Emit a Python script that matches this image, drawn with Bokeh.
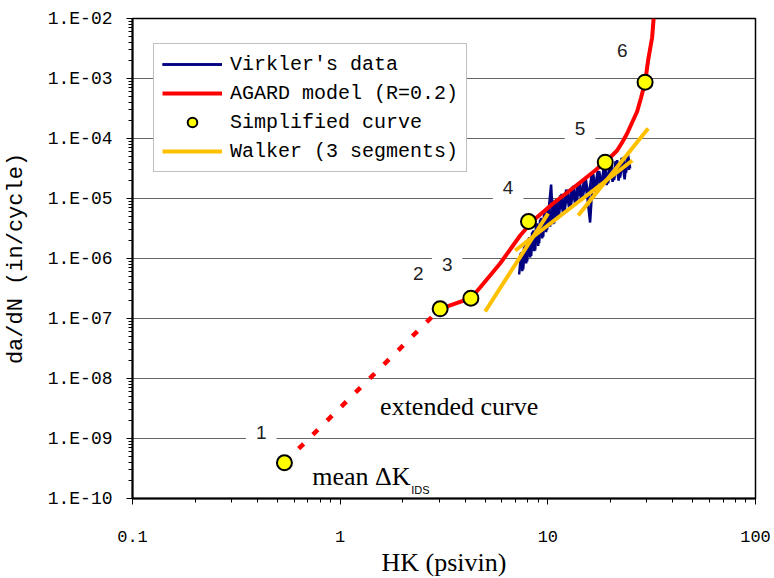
from bokeh.plotting import figure
from bokeh.models import FixedTicker, CustomJSTickFormatter, Label, Legend, LegendItem
from bokeh.embed import file_html
from bokeh.resources import INLINE

# ---------------- data ----------------
# Simplified curve (numbered points 1..6)
simp_x = [0.539, 3.03, 4.26, 8.07, 18.9, 29.4]
simp_y = [3.94e-10, 1.45e-7, 2.18e-7, 4.14e-6, 4.03e-5, 8.67e-4]
simp_labels = ["1", "2", "3", "4", "5", "6"]

# AGARD model (R=0.2), solid part
agard_x = [3.03, 4.26, 4.72, 5.89, 7.36, 8.50, 10.6, 14.3, 16.89, 18.46, 19.95, 21.56, 22.79,
           24.09, 25.46, 26.92, 28.13, 29.4, 30.4, 31.78, 32.32]
agard_y = [1.45e-7, 2.18e-7, 3.29e-7, 8.25e-7, 2.42e-6, 4.30e-6, 8.25e-6, 1.85e-5, 2.93e-5, 3.83e-5,
           4.82e-5, 6.31e-5, 8.58e-5, 1.21e-4, 1.85e-4, 2.82e-4, 4.82e-4, 8.67e-4, 2.0e-3, 4.82e-3, 1.0e-2]

# extended curve (dashed), from point 1 to point 2
ext_x = [0.539, 3.03]
ext_y = [3.94e-10, 1.45e-7]

# Virkler's data (noisy band), traced as two interleaved zig-zags
virk_a_x = [7.275, 7.439, 7.606, 7.776, 7.950, 8.128, 8.310, 8.496, 8.687, 8.881,
            9.080, 9.284, 9.493, 9.705, 9.922, 10.15, 10.37, 10.60, 10.84, 11.08,
            11.46, 11.85, 12.25, 12.66, 13.09, 13.53, 13.99, 14.47, 14.96, 15.46,
            15.98, 16.52, 17.08, 17.66, 18.26, 18.88, 19.51, 20.17, 20.85, 21.56,
            22.29, 23.05, 23.82, 24.36, 24.91]
virk_a_y = [5.41e-7, 1.26e-6, 6.56e-7, 1.68e-6, 8.91e-7, 2.26e-6, 1.105e-6, 2.93e-6, 1.36e-6, 3.86e-6,
            1.81e-6, 4.75e-6, 2.30e-6, 6.26e-6, 3.04e-6, 7.94e-6, 1.71e-5, 3.72e-6, 9.33e-6, 4.50e-6,
            1.126e-5, 5.62e-6, 1.40e-5, 6.97e-6, 1.56e-5, 8.13e-6, 1.82e-5, 9.48e-6, 2.10e-5, 1.13e-5,
            3.98e-6, 2.59e-5, 1.34e-5, 2.86e-5, 1.585e-5, 3.24e-5, 1.79e-5, 3.67e-5, 2.03e-5, 4.33e-5,
            2.24e-5, 4.90e-5, 2.71e-5, 5.21e-5, 3.16e-5]
virk_b_x = [7.357, 7.522, 7.690, 7.862, 8.038, 8.219, 8.403, 8.591, 8.783, 8.980,
            9.182, 9.388, 9.598, 9.813, 10.03, 10.26, 10.49, 10.72, 10.96, 11.27,
            11.65, 12.04, 12.45, 12.88, 13.31, 13.76, 14.23, 14.71, 15.21, 15.72,
            16.25, 16.80, 17.37, 17.96, 18.57, 19.19, 19.84, 20.51, 21.21, 21.93,
            22.67, 23.43, 24.09, 24.63]
virk_b_y = [1.21e-6, 6.17e-7, 1.57e-6, 8.32e-7, 2.12e-6, 1.04e-6, 2.73e-6, 1.33e-6, 3.62e-6, 1.62e-6,
            4.45e-6, 2.16e-6, 5.67e-6, 2.75e-6, 7.36e-6, 3.41e-6, 9.62e-6, 3.86e-6, 9.70e-6, 4.77e-6,
            1.19e-5, 6.19e-6, 1.40e-5, 7.00e-6, 1.63e-5, 8.48e-6, 1.90e-5, 9.81e-6, 2.18e-5, 1.04e-5,
            2.50e-5, 1.29e-5, 2.87e-5, 1.48e-5, 3.15e-5, 1.68e-5, 3.56e-5, 1.90e-5, 4.18e-5, 1.99e-5,
            4.75e-5, 2.09e-5, 5.11e-5, 2.99e-5]

# Walker (3 segments)
walker_x = [[4.99, 10.03], [6.96, 25.5], [14.0, 30.4]]
walker_y = [[1.31e-7, 5.62e-6], [1.36e-6, 4.30e-5], [5.2e-6, 1.47e-4]]

# tick values
x_ticks = [0.1, 1, 10, 100]
y_ticks = [1e-10, 1e-9, 1e-8, 1e-7, 1e-6, 1e-5, 1e-4, 1e-3, 1e-2]

# annotation positions (data units)
num_lab_x = [0.4166, 2.375, 3.275, 6.44, 14.3, 22.8]
num_lab_y = [1.26e-9, 5.62e-7, 7.94e-7, 1.525e-5, 1.47e-4, 2.93e-3]
num_lab_box = [True, False, True, True, True, False]

# ---------------- figure ----------------
p = figure(x_axis_type="log", y_axis_type="log",
           x_range=(0.1, 100), y_range=(1e-10, 1e-2),
           frame_width=623, frame_height=480,
           min_border_left=132, min_border_right=17, min_border_top=18, min_border_bottom=80,
           output_backend="svg", toolbar_location=None,
           background_fill_color="white", border_fill_color="white")

p.outline_line_color = "black"
p.outline_line_width = 1.5

xminor = [m * 10.0 ** e for e in range(-1, 2) for m in range(2, 10)]
yminor = [m * 10.0 ** e for e in range(-10, -2) for m in range(2, 10)]
xt = FixedTicker(ticks=x_ticks, minor_ticks=xminor)
yt = FixedTicker(ticks=y_ticks, minor_ticks=yminor)
p.xaxis.ticker = xt
p.yaxis.ticker = yt
p.xgrid.visible = False
p.ygrid.ticker = yt
p.ygrid.grid_line_color = "#666666"
p.ygrid.grid_line_width = 1

p.yaxis.formatter = CustomJSTickFormatter(code="""
const e = Math.round(Math.log10(tick));
const a = Math.abs(e);
return "1.E" + (e < 0 ? "-" : "+") + (a < 10 ? "0" + a : "" + a);
""")
p.xaxis.formatter = CustomJSTickFormatter(code="""
const e = Math.round(Math.log10(tick));
return e < 0 ? tick.toFixed(-e) : tick.toFixed(0);
""")

for ax in (p.xaxis[0], p.yaxis[0]):
    ax.axis_line_color = "black"
    ax.axis_line_width = 2
    ax.major_tick_line_color = "black"
    ax.minor_tick_line_color = "black"
    ax.major_tick_in = 0
    ax.major_tick_out = 6
    ax.minor_tick_in = 0
    ax.minor_tick_out = 4
    ax.major_label_text_font = "Liberation Mono"
    ax.major_label_text_color = "black"
    ax.axis_label_text_font_style = "normal"
    ax.axis_label_text_color = "black"

p.xaxis.major_label_text_font_size = "17px"
p.yaxis.major_label_text_font_size = "18px"

p.xaxis.axis_label = "HK (psivin)"
p.xaxis.axis_label_text_font = "Liberation Serif"
p.xaxis.axis_label_text_font_size = "26px"
p.xaxis.major_label_standoff = 26
p.xaxis.axis_label_standoff = 3

p.yaxis.axis_label = "da/dN (in/cycle)"
p.yaxis.axis_label_text_font = "Liberation Mono"
p.yaxis.axis_label_text_font_size = "22px"
p.yaxis.major_label_standoff = 14
p.yaxis.axis_label_standoff = 16

# ---------------- glyphs ----------------
r_va = p.line(virk_a_x, virk_a_y, line_color="#000080", line_width=2.5)
r_vb = p.line(virk_b_x, virk_b_y, line_color="#000080", line_width=2.5)
p.line(ext_x, ext_y, line_color="#FF0000", line_width=4.5, line_dash="7 13")
r_a = p.line(agard_x, agard_y, line_color="#FF0000", line_width=4)
r_w = p.multi_line(walker_x, walker_y, line_color="#FFC000", line_width=4)
r_s = p.scatter(simp_x, simp_y, size=15, fill_color="#FFFF00", line_color="black", line_width=2)

# ---------------- annotations ----------------
for lx, ly, txt, box in zip(num_lab_x, num_lab_y, simp_labels, num_lab_box):
    p.add_layout(Label(x=lx, y=ly, text=txt, text_align="center", text_baseline="middle",
                       text_font="Liberation Sans", text_font_size="19px", text_color="#222222",
                       background_fill_color="white" if box else None, padding=10 if box else 0))

p.add_layout(Label(x=3.74, y=3.41e-9, text="extended curve", text_align="center",
                   text_baseline="middle", text_font="Liberation Serif", text_font_size="26px",
                   text_color="black"))
p.add_layout(Label(x=0.733, y=2.33e-10, text="mean \u0394K", text_align="left",
                   text_baseline="middle", text_font="Liberation Serif", text_font_size="26px",
                   text_color="black"))
p.add_layout(Label(x=2.20, y=1.40e-10, text="IDS", text_align="left",
                   text_baseline="middle", text_font="Liberation Sans", text_font_size="11px",
                   text_color="black"))

# ---------------- legend ----------------
legend = Legend(items=[
    LegendItem(label="Virkler's data", renderers=[r_va, r_vb]),
    LegendItem(label="AGARD model (R=0.2)", renderers=[r_a]),
    LegendItem(label="Simplified curve", renderers=[r_s]),
    LegendItem(label="Walker (3 segments)", renderers=[r_w]),
], location=(21, 326))
legend.label_text_font = "Liberation Mono"
legend.label_text_font_size = "20px"
legend.label_text_color = "black"
legend.glyph_width = 60
legend.glyph_height = 24
legend.label_height = 24
legend.spacing = 5
legend.padding = 8
legend.label_standoff = 8
legend.margin = 0
legend.border_line_color = "#808080"
legend.border_line_width = 1
legend.background_fill_color = "white"
legend.background_fill_alpha = 1.0
p.add_layout(legend)

open("out.html", "w").write(file_html(p, INLINE))
